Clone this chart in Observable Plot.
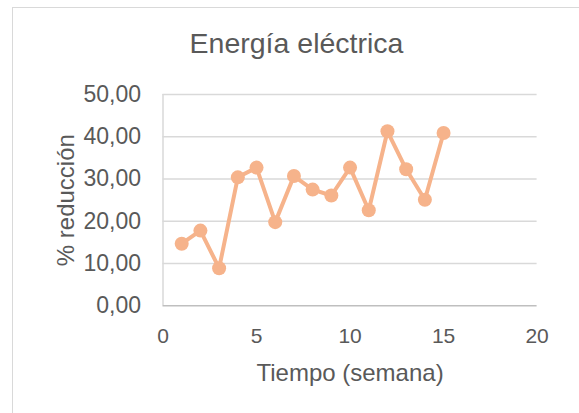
<!DOCTYPE html>
<html>
<head>
<meta charset="utf-8">
<script src="https://cdn.jsdelivr.net/npm/d3@7"></script>
<script src="https://cdn.jsdelivr.net/npm/@observablehq/plot@0.6"></script>
<style>
  html, body { margin: 0; padding: 0; background: #fff; overflow: hidden; }
  #frame { position: absolute; left: 12px; top: 7px; width: 620px; height: 430px; border: 1px solid #D9D9D9; box-sizing: border-box; }
  #title { position: absolute; left: 0; top: 27px; width: 593px; text-align: center; font-family: "Liberation Sans", Arial, sans-serif; font-size: 28.5px; color: #595959; line-height: normal; }
  #chart { position: absolute; left: 0; top: 0; }
</style>
</head>
<body>
<div id="frame"></div>
<div id="title">Energía eléctrica</div>
<div id="chart"></div>
<script>
const semanas = [1, 2, 3, 4, 5, 6, 7, 8, 9, 10, 11, 12, 13, 14, 15];
const reduccion = [14.7, 17.8, 8.9, 30.4, 32.7, 19.8, 30.7, 27.5, 26.1, 32.7, 22.6, 41.3, 32.3, 25.1, 40.9];
const xTicks = [0, 5, 10, 15, 20];
const yTicks = [0, 10, 20, 30, 40, 50];
const xLabel = "Tiempo (semana)";
const yLabel = "% reducción";

const data = semanas.map((s, i) => ({semana: s, valor: reduccion[i]}));
const color = "#F6B38B";
const fmt = d => d.toFixed(2).replace(".", ",");

const chart = Plot.plot({
  width: 579,
  height: 413,
  marginLeft: 162.5,
  marginRight: 42.4,
  marginTop: 94,
  marginBottom: 107.7,
  style: {fontFamily: "'Liberation Sans', Arial, sans-serif", color: "#595959", background: "transparent", overflow: "visible"},
  x: {domain: [0, 20], label: null},
  y: {domain: [0, 50], label: null},
  marks: [
    Plot.gridY(yTicks.filter(d => d > 0), {stroke: "#D9D9D9", strokeOpacity: 1, strokeWidth: 1.5}),
    Plot.ruleX([0], {stroke: "#D9D9D9", strokeWidth: 1.5}),
    Plot.ruleY([0], {stroke: "#BFBFBF", strokeWidth: 1.5}),
    Plot.axisX({ticks: xTicks, tickSize: 0, tickPadding: 22, fontSize: 21, tickFormat: d => String(d), label: null, fill: "#595959"}),
    Plot.axisY({ticks: yTicks, tickSize: 0, tickPadding: 22, fontSize: 23, tickFormat: fmt, label: null, fill: "#595959"}),
    Plot.text([xLabel], {text: d => d, frameAnchor: "bottom", lineAnchor: "bottom", textAnchor: "middle", dy: 75, fontSize: 24, fill: "#595959"}),
    Plot.text([yLabel], {text: d => d, frameAnchor: "left", lineAnchor: "bottom", textAnchor: "middle", rotate: -90, dx: -89, fontSize: 24, fill: "#595959"}),
    Plot.line(data, {x: "semana", y: "valor", stroke: color, strokeWidth: 4, strokeLinejoin: "round"}),
    Plot.dot(data, {x: "semana", y: "valor", r: 7, fill: color, stroke: "none"})
  ]
});
document.getElementById("chart").appendChild(chart);
</script>
</body>
</html>
